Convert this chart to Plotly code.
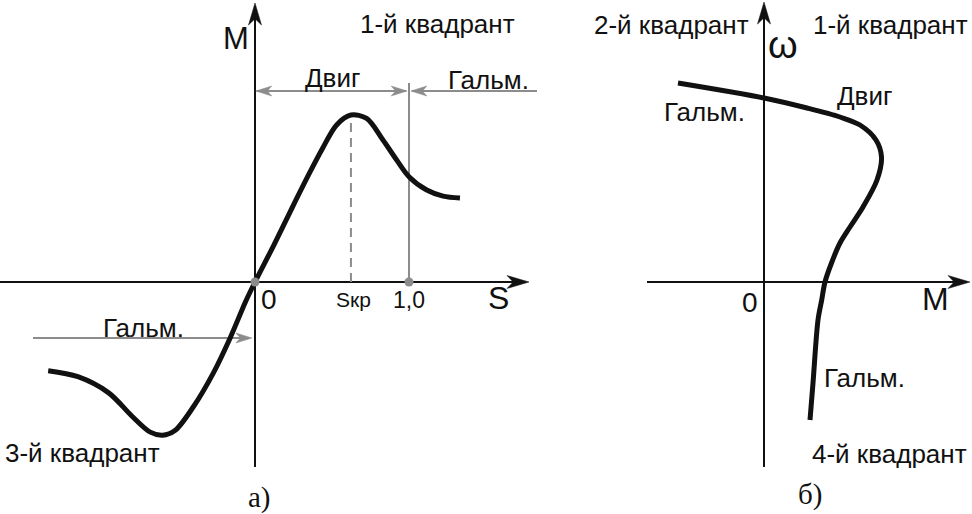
import plotly.graph_objects as go

# ---------------- data: panel a) M = f(S) ----------------
S_curve = [-1.343, -1.15, -0.95, -0.80, -0.68, -0.60, -0.52, -0.40, -0.27, -0.16, -0.06,
           0.0, 0.12, 0.24, 0.35, 0.44, 0.53, 0.623, 0.725, 0.831, 0.920, 1.0, 1.115, 1.221, 1.331]
M_curve = [-0.576, -0.615, -0.72, -0.87, -0.975, -0.995, -0.965, -0.81, -0.59, -0.36, -0.125,
           0.0, 0.235, 0.48, 0.70, 0.87, 1.02, 1.084, 1.062, 0.922, 0.792, 0.684, 0.597, 0.558, 0.545]
s_kr = 0.623
M_kr = 1.084
s_one = 1.0
a_tick_vals = [0.0, s_kr, s_one]
a_tick_text = ["0", "Sкр", "1,0"]

# ---------------- data: panel b) ω = f(M) ----------------
Mb_curve = [-0.86, 0.0, 0.43, 0.76, 0.96, 1.12, 1.175, 1.13, 0.99, 0.86, 0.76, 0.675, 0.61, 0.577, 0.54, 0.49, 0.46]
W_curve = [1.99, 1.84, 1.74, 1.65, 1.57, 1.42, 1.25, 1.02, 0.75, 0.55, 0.39, 0.19, 0.0, -0.18, -0.38, -1.01, -1.38]

# ---------------- styling ----------------
W, H = 972, 514
BLACK = "#111111"
GRAY = "#8c8c8c"
SANS = "Liberation Sans, Arial, sans-serif"
SERIF = "Liberation Serif, Times New Roman, serif"

# px per unit of each panel (both axes span the whole figure, overlaid)
A_SCALE, A_X0, A_Y0 = 154.0, 255.0, 282.0
B_SCALE, B_X0, B_Y0 = 100.0, 764.0, 282.0
a_xr = [-A_X0 / A_SCALE, (W - A_X0) / A_SCALE]
a_yr = [(A_Y0 - H) / A_SCALE, A_Y0 / A_SCALE]
b_xr = [-B_X0 / B_SCALE, (W - B_X0) / B_SCALE]
b_yr = [(B_Y0 - H) / B_SCALE, B_Y0 / B_SCALE]

fig = go.Figure()

# curves
fig.add_trace(go.Scatter(x=S_curve, y=M_curve, mode="lines", line=dict(color=BLACK, width=5, shape="spline", smoothing=0.9),
                         xaxis="x", yaxis="y", hoverinfo="skip", showlegend=False))
fig.add_trace(go.Scatter(x=Mb_curve, y=W_curve, mode="lines", line=dict(color=BLACK, width=5, shape="spline", smoothing=0.9),
                         xaxis="x2", yaxis="y2", hoverinfo="skip", showlegend=False))
# grey points at 0 and 1,0
fig.add_trace(go.Scatter(x=[0.0, s_one], y=[0, 0], mode="markers", marker=dict(color=GRAY, size=9),
                         xaxis="x", yaxis="y", hoverinfo="skip", showlegend=False))

shapes = []


def line(xref, yref, x0, y0, x1, y1, color=BLACK, width=2, dash=None, layer="below"):
    d = dict(color=color, width=width)
    if dash:
        d["dash"] = dash
    shapes.append(dict(type="line", xref=xref, yref=yref, x0=x0, y0=y0, x1=x1, y1=y1, line=d, layer=layer))


def head(xref, yref, tx, ty, dx, dy, L, Wd, scale, color=BLACK):
    # stealth arrow head; L, Wd in px, scale px/unit
    L /= scale
    Wd /= scale
    nx, ny = -dy, dx
    bx, by = tx - dx * L, ty - dy * L
    c1 = (bx + nx * Wd / 2, by + ny * Wd / 2)
    c2 = (bx - nx * Wd / 2, by - ny * Wd / 2)
    nb = (tx - dx * 0.72 * L, ty - dy * 0.72 * L)
    path = f"M{tx},{ty} L{c1[0]},{c1[1]} L{nb[0]},{nb[1]} L{c2[0]},{c2[1]} Z"
    shapes.append(dict(type="path", xref=xref, yref=yref, path=path, fillcolor=color,
                       line=dict(color=color, width=0.5), layer="above"))


# ---- panel a axes ----
ax_tip = (529 - A_X0) / A_SCALE
ay_tip = (A_Y0 - 3) / A_SCALE
line("x", "y", a_xr[0], 0, ax_tip - 0.05, 0)
head("x", "y", ax_tip, 0, 1, 0, 22, 13, A_SCALE)
line("x", "y", 0, (A_Y0 - 467) / A_SCALE, 0, ay_tip - 0.05)
head("x", "y", 0, ay_tip, 0, 1, 22, 13, A_SCALE)

# grey guides
M_arrow = (A_Y0 - 91) / A_SCALE
line("x", "y", s_one, 0, s_one, (A_Y0 - 83) / A_SCALE, color=GRAY, width=2)
line("x", "y", s_kr, 0, s_kr, M_kr, color=GRAY, width=2, dash="9px,6px")
# Двиг double arrow
line("x", "y", 0.01, M_arrow, s_one - 0.02, M_arrow, color=GRAY, width=2)
head("x", "y", 0.005, M_arrow, -1, 0, 16, 10, A_SCALE, color=GRAY)
head("x", "y", s_one - 0.012, M_arrow, 1, 0, 16, 10, A_SCALE, color=GRAY)
# Гальм. arrow (right)
line("x", "y", s_one + 0.02, M_arrow, (537 - A_X0) / A_SCALE, M_arrow, color=GRAY, width=2)
head("x", "y", s_one + 0.012, M_arrow, -1, 0, 16, 10, A_SCALE, color=GRAY)
# Гальм. arrow (left, bottom)
M_arrow2 = (A_Y0 - 338) / A_SCALE
line("x", "y", (33 - A_X0) / A_SCALE, M_arrow2, -0.04, M_arrow2, color=GRAY, width=2)
head("x", "y", -0.02, M_arrow2, 1, 0, 16, 10, A_SCALE, color=GRAY)

# ---- panel b axes ----
bx_tip = (970 - B_X0) / B_SCALE
by_tip = (B_Y0 - 2) / B_SCALE
line("x2", "y2", (647 - B_X0) / B_SCALE, 0, bx_tip - 0.08, 0)
head("x2", "y2", bx_tip, 0, 1, 0, 22, 13, B_SCALE)
line("x2", "y2", 0, (B_Y0 - 467) / B_SCALE, 0, by_tip - 0.08)
head("x2", "y2", 0, by_tip, 0, 1, 22, 13, B_SCALE)

annotations = []


def text(xref, yref, x, y, t, size=26, font=SANS, xshift=0, yshift=0):
    annotations.append(dict(xref=xref, yref=yref, x=x, y=y, text=t, showarrow=False,
                            font=dict(family=font, size=size, color=BLACK),
                            xanchor="center", yanchor="middle", xshift=xshift, yshift=yshift))


# panel a labels
text("x", "y", -0.123, 1.584, "M", size=31)
text("x", "y", 1.188, 1.675, "1-й квадрант")
text("x", "y", 0.50, 1.325, "Двиг")
text("x", "y", 1.513, 1.31, "Гальм.")
text("x", "y", -0.727, -0.30, "Гальм.")
text("x", "y", -1.123, -1.11, "3-й квадрант")
text("x", "y", 1.578, -0.104, "S", size=32)
tick_sizes = [28, 21, 23]
tick_shift = [14, 3, 0]
for v, t, sz, sh in zip(a_tick_vals, a_tick_text, tick_sizes, tick_shift):
    text("x", "y", v, -0.115, t, size=sz, xshift=sh)
text("x", "y", 0.032, -1.40, "а)", size=29, font=SERIF)

# panel b labels
text("x2", "y2", -0.93, 2.57, "2-й квадрант")
text("x2", "y2", 1.26, 2.57, "1-й квадрант")
text("x2", "y2", 0.19, 2.37, "ω", size=38)
text("x2", "y2", 1.0, 1.86, "Двиг")
text("x2", "y2", -0.60, 1.70, "Гальм.")
text("x2", "y2", -0.14, -0.20, "0", size=28)
text("x2", "y2", 1.71, -0.17, "M", size=32)
text("x2", "y2", 1.0, -0.96, "Гальм.")
text("x2", "y2", 1.25, -1.72, "4-й квадрант")
text("x2", "y2", 0.46, -2.12, "б)", size=29, font=SERIF)

ax_common = dict(visible=False, showgrid=False, zeroline=False, fixedrange=True)
fig.update_layout(
    width=W, height=H,
    margin=dict(l=0, r=0, t=0, b=0),
    paper_bgcolor="white", plot_bgcolor="white",
    xaxis=dict(range=a_xr, domain=[0, 1], **ax_common),
    yaxis=dict(range=a_yr, domain=[0, 1], **ax_common),
    xaxis2=dict(range=b_xr, domain=[0, 1], overlaying="x", anchor="y2", **ax_common),
    yaxis2=dict(range=b_yr, domain=[0, 1], overlaying="y", anchor="x2", **ax_common),
    shapes=shapes,
    annotations=annotations,
    showlegend=False,
)

fig.write_html("out.html", config={"displayModeBar": False},
               post_script="document.body.style.margin='0px';document.body.style.overflow='hidden';")
